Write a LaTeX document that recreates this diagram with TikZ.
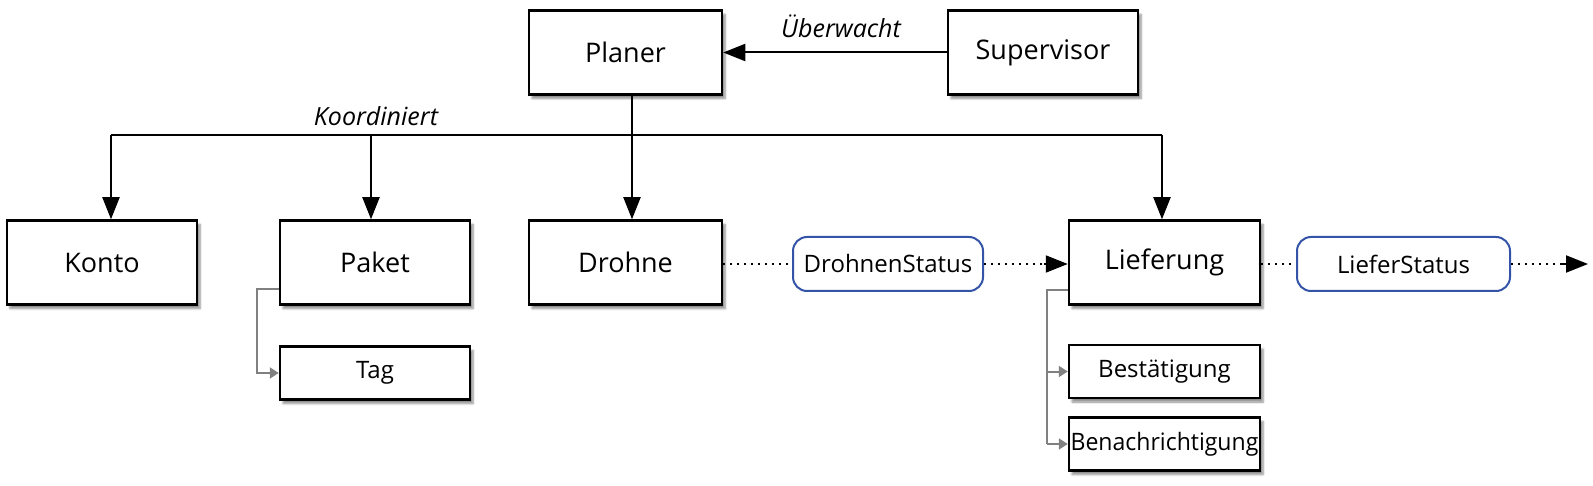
\documentclass[tikz,border=0pt]{standalone}
\usepackage{fontspec}
\setmainfont{Open Sans}
\usetikzlibrary{arrows.meta,shadows.blur}
\definecolor{stblue}{HTML}{3454A8}
\begin{document}
\begin{tikzpicture}[x=1pt,y=-1pt,
  box/.style={draw=black,line width=2.5pt,fill=white,inner sep=0pt,
    blur shadow={shadow xshift=3pt,shadow yshift=-4pt,shadow blur steps=6,shadow opacity=45},
    font=\fontsize{27}{32}\selectfont},
  bigbox/.style={box,minimum width=191pt,minimum height=84pt},
  smallbox/.style={box,minimum width=191pt,minimum height=53pt,font=\fontsize{24}{28}\selectfont},
  stbox/.style={draw=stblue,line width=2pt,rounded corners=14pt,fill=white,inner sep=0pt,
    minimum height=54pt,font=\fontsize{24}{28}\selectfont},
  main/.style={line width=2pt,-{Triangle[length=22pt,width=17pt]}},
  sub/.style={draw=gray,line width=2pt,-{Triangle[length=9pt,width=11pt]}},
  dots/.style={line width=2.2pt,dash pattern=on 2.2pt off 4.8pt},
  lbl/.style={font=\fontsize{25}{30}\selectfont\itshape}]
\useasboundingbox (0,0) rectangle (1593,486);
\node[bigbox,minimum width=193pt] (planer) at (625.5,52.5) {Planer};
\node[bigbox,minimum width=190pt] (super) at (1043,52.5) {Supervisor};
\node[bigbox,minimum width=190pt] (konto) at (102,262.5) {Konto};
\node[bigbox,minimum width=190pt] (paket) at (375,262.5) {Paket};
\node[bigbox,minimum width=193pt] (drohne) at (625.5,262.5) {Drohne};
\node[bigbox] (liefer) at (1164.5,262.5) {Lieferung};
\node[smallbox,minimum width=190pt] (tag) at (375,373) {Tag};
\node[smallbox] (best) at (1164.5,371.5) {Bestätigung};
\node[smallbox] (bena) at (1164.5,444) {\scalebox{0.96}[1]{Benachrichtigung}};
\node[stbox,minimum width=190pt] (dstat) at (888,264) {DrohnenStatus};
\node[stbox,minimum width=213pt] (lstat) at (1403.5,264) {LieferStatus};
% supervisor -> planer
\draw[main] (super.west) -- (planer.east);
\node[lbl] (lue) at (841,26) {Überwacht};
% bus
\coordinate (bk) at (111,135);
\coordinate (bp) at (371,135);
\coordinate (bd) at (632,135);
\coordinate (bl) at (1162,135);
\draw[line width=2pt] (bk) -- (bl);
\draw[line width=2pt] (planer.south -| bd) -- (bd);
\draw[main] (bk) -- (konto.north -| bk);
\draw[main] (bp) -- (paket.north -| bp);
\draw[main] (bd) -- (drohne.north -| bd);
\draw[main] (bl) -- (liefer.north -| bl);
\node[lbl] (lko) at (376,116) {Koordiniert};
% sub arrows
\coordinate (pk) at (257,289);
\draw[sub] (paket.west |- pk) -- (pk) -- (pk |- tag.west) -- (tag.west);
\coordinate (lk) at (1047,290);
\draw[draw=gray,line width=2pt] (liefer.west |- lk) -- (lk) -- (lk |- bena.west);
\draw[sub] (lk |- best.west) -- (best.west);
\draw[sub] (lk |- bena.west) -- (bena.west);
% dotted flow
\coordinate (endtip) at (1588,264);
\draw[dots] (drohne.east |- dstat.west) -- (dstat.west);
\draw[dots] (dstat.east) -- ++(60,0) coordinate (d1);
\draw[-{Triangle[length=22pt,width=17pt]},line width=2pt] (d1) -- (liefer.west |- dstat.east);
\draw[dots] (liefer.east |- lstat.west) -- (lstat.west);
\draw[dots] (lstat.east) -- ++(50,0) coordinate (d2);
\draw[-{Triangle[length=22pt,width=17pt]},line width=2pt] (d2) -- (endtip);
\end{tikzpicture}
\end{document}
